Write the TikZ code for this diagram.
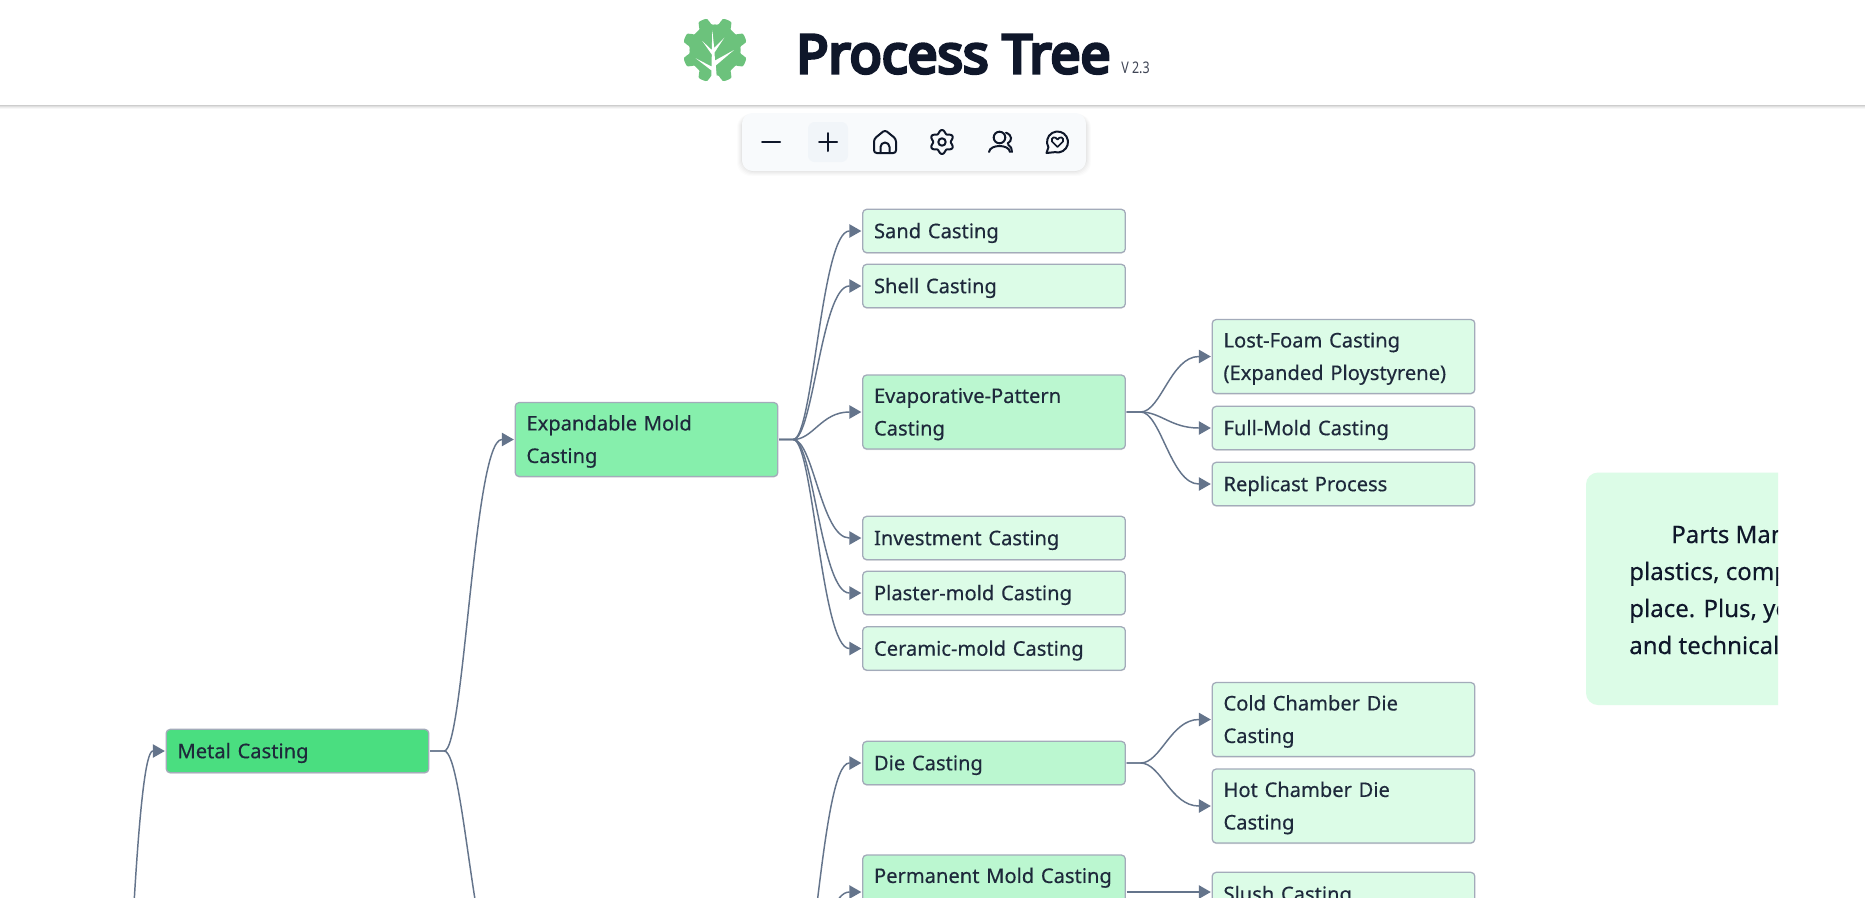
\documentclass[tikz,border=0pt]{standalone}
\usepackage{fontspec}
\setmainfont{Noto Sans}[FakeBold=0.35]
\newfontfamily\titlefont{Noto Sans}[FakeBold=6]
\newfontfamily\verfont{Noto Sans}[FakeStretch=.78]
\usetikzlibrary{arrows.meta,shadows}
\definecolor{ink}{HTML}{0F172A}
\definecolor{label}{HTML}{1E293B}
\definecolor{slate}{HTML}{64748B}
\definecolor{edge}{HTML}{A3ABBA}
\definecolor{leafgreen}{HTML}{6CC27C}
\definecolor{toolbg}{HTML}{F8FAFC}
\definecolor{toolhi}{HTML}{F1F5F9}
\definecolor{paleA}{HTML}{4ADE80}
\definecolor{paleB}{HTML}{86EFAC}
\definecolor{paleC}{HTML}{BBF7D0}
\definecolor{paleD}{HTML}{DCFCE7}
\newcommand\boxstrut{\rule[-6.8pt]{0pt}{24.4pt}}
\tikzset{>={Triangle[length=9pt,width=10pt]}}
\tikzset{
  box/.style={draw=edge,line width=.95pt,rounded corners=3pt,minimum width=197pt,text width=180pt,
    inner xsep=8.5pt,inner ysep=0pt,outer sep=1pt,align=left,text=label,
    font=\fontsize{15.1}{24.4}\selectfont,execute at begin node=\boxstrut,execute at end node=\boxstrut,
    drop shadow={shadow xshift=0pt,shadow yshift=-.8pt,opacity=.12,fill=black}},
  one/.style={box,minimum height=32.5pt},
  two/.style={box,minimum height=55.5pt},
  link/.style={->,slate,line width=1.1pt},
  stub/.style={inner sep=0pt,outer sep=0pt},
  icon/.style={ink,line width=1.5pt,line cap=round,line join=round},
}
\begin{document}
\begin{tikzpicture}[x=.75pt,y=-.75pt]
  \path[use as bounding box,clip] (0,0) rectangle (1865,897);
  \fill[white] (0,0) rectangle (1865,897);
  % header
  \foreach \d/\o in {4/.03,3/.04,2/.06,1/.08}
    \fill[black,opacity=\o] (0,105) rectangle (1865,105+\d);
  % logo
  \fill[leafgreen,shift={(715,50)}] plot[domain=0:360,samples=129] (\x:{29+3.5*tanh(-3*cos(8*\x))}) -- cycle;
  \fill[white] (712.3,30) -- (714.2,48) -- (724.3,37.7) -- (714.5,52.5) -- (715,60.5) -- (734,50)
    -- (715.8,65.5) -- (717.3,84) -- (711,84) -- (711.5,70.5) -- (695.7,58.3) -- (711.5,66.5) -- (711.8,54.5) -- (702.3,41) -- (711.8,50) -- cycle;
  \node[font=\titlefont\fontsize{40}{40}\selectfont,text=ink,anchor=base west,inner sep=0pt] (title) at (796,73) {Process Tree};
  \node[font=\verfont\fontsize{12}{12}\selectfont,text=ink!80,anchor=base west,inner sep=0pt] (version) at (1121,73) {V 2.3};
  % toolbar
  \foreach \d/\o in {5/.012,4/.014,3/.018,2/.02,1/.03}
    \fill[black,opacity=\o,rounded corners=10pt] (742-\d,114) rectangle (1086+\d,171+\d);
  \fill[toolbg,rounded corners=8pt] (742,113) rectangle (1086,171);
  \fill[toolhi,rounded corners=5pt] (808,122) rectangle (848,162);
  \draw[icon] (762,142) -- (780,142); % minus
  \draw[icon] (819,142) -- (837,142) (828,133) -- (828,151); % plus
  \draw[icon,rounded corners=2pt] (885,130) -- (896,139) -- (896,153) -- (874,153) -- (874,139) -- cycle; % home
  \draw[icon] (880.5,153) -- (880.5,147) arc[start angle=180,end angle=360,radius=4.5] -- (889.5,153);
  \begin{scope}[shift={(942,142)}] % gear
    \draw[icon] plot[domain=0:360,samples=73,smooth] (\x:{10.4-1.6*cos(6*\x)}) -- cycle;
    \draw[icon] (0,0) circle[radius=3.7];
  \end{scope}
  \draw[icon] (999.5,137.5) circle[radius=5.8]; % people
  \draw[icon] (989,152) .. controls (990,144) and (1009,144) .. (1010,152);
  \draw[icon] (1006,132.7) .. controls (1012.5,135) and (1012.5,141) .. (1007.5,143.5);
  \draw[icon] (1008,144.5) .. controls (1011,146) and (1012,149) .. (1012,152);
  \begin{scope}[shift={(1057.5,142)}] % chat
    \draw[icon] (150:10.5) arc[start angle=150,end angle=465,radius=10.5] -- (-11,11) -- cycle;
    \draw[icon,line width=1.3pt] (0,5) -- (-5.5,-.5) .. controls (-7,-5) and (-2,-6) .. (0,-2.5)
      .. controls (2,-6) and (7,-5) .. (5.5,-.5) -- cycle;
  \end{scope}
  % tree nodes
  \node[one,fill=paleA] (metal) at (297.5,751) {Metal Casting};
  \node[two,fill=paleB] (expand) at (646.5,439.5) {Expandable Mold\\Casting};
  \foreach \n/\y/\t in {sand/231/Sand Casting,shell/286/Shell Casting,invest/538/Investment Casting,
      plaster/593/Plaster-mold Casting,ceramic/648.5/Ceramic-mold Casting}
    \node[one,fill=paleD] (\n) at (994,\y) {\t};
  \node[two,fill=paleC] (evap) at (994,412) {Evaporative-Pattern\\Casting};
  \node[one,fill=paleC] (die) at (994,763) {Die Casting};
  \node[two,fill=paleC] (perm) at (994,892) {Permanent Mold Casting\\};
  \node[two,fill=paleD] (lost) at (1343.5,356.5) {Lost-Foam Casting\\(Expanded Ploystyrene)};
  \node[one,fill=paleD] (full) at (1343.5,428) {Full-Mold Casting};
  \node[one,fill=paleD] (replicast) at (1343.5,484) {Replicast Process};
  \node[two,fill=paleD] (cold) at (1343.5,719.5) {Cold Chamber Die\\Casting};
  \node[two,fill=paleD] (hot) at (1343.5,806) {Hot Chamber Die\\Casting};
  \node[one,fill=paleD] (slush) at (1343.5,894) {Slush Casting};
  % ends of links that run off the page
  \node[stub] (rootend) at (80,1650) {};
  \node[stub] (moldin) at (515,985) {};
  \node[stub] (moldend) at (779,1020) {};
  % links
  \foreach \a/\b in {rootend/metal,metal/expand,metal/moldin,expand/sand,expand/shell,expand/evap,
      expand/invest,expand/plaster,expand/ceramic,evap/lost,evap/full,evap/replicast,
      die/cold,die/hot,moldend/die,moldend/perm}
    \draw[link] (\a.east) -- ++(14,0) .. controls +(20,0) and +(-28,0) .. ([xshift=-9pt]\b.west) -- (\b.west);
  \draw[link] (perm.east) -- (perm.east -| slush.west);
  % info panel
  \begin{scope}
    \clip (1500,472.5) rectangle (1778,705);
    \fill[paleD,rounded corners=9pt] (1586,472.5) rectangle (1800,705);
    \foreach \n/\x/\y/\t in {infoa/1671/543/Parts Man,infob/1629/580/{plastics, comp},
        infoc/1629/617/{place. Plus, yo},infod/1629/654/and technical}
      \node[font=\fontsize{18}{20}\selectfont,text=ink,anchor=base west,inner sep=0pt] (\n) at (\x,\y) {\t};
  \end{scope}
\end{tikzpicture}
\end{document}
